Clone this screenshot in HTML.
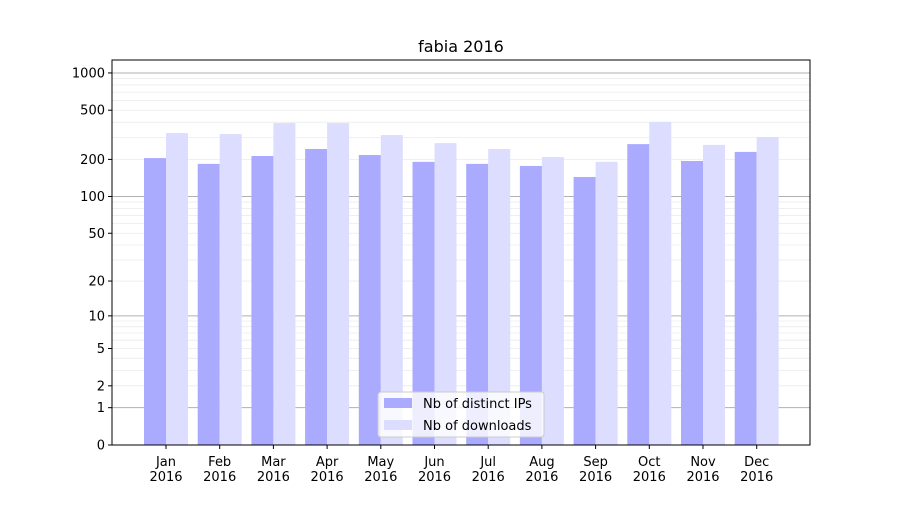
<!DOCTYPE html>
<html><head><meta charset="utf-8"><style>
body{margin:0;background:#fff;font-family:"Liberation Sans","DejaVu Sans",sans-serif}
</style></head><body>
<svg id="chart" width="900" height="500" xmlns="http://www.w3.org/2000/svg" font-family="DejaVu Sans, Liberation Sans, sans-serif">
<rect width="900" height="500" fill="#fff"/>
<text x="461" y="52" font-size="16" text-anchor="middle">fabia 2016</text>
<g id="grid"></g><g id="bars"></g><g id="axes"></g>
</svg>
<script>
const months=["Jan","Feb","Mar","Apr","May","Jun","Jul","Aug","Sep","Oct","Nov","Dec"];
const ips=[205,184,213,243,217,191,184,177,144,266,194,230];
const downloads=[327,321,394,394,315,271,243,209,191,402,262,304];
const yTicks=[0,1,2,5,10,20,50,100,200,500,1000];
const NS="http://www.w3.org/2000/svg";
const L=112,R=810,T=60,B=445;
function y(v){return B-124*Math.log10(1+v);}
function x(i){return 166+i*53.7;}
function mk(t,a,p){const e=document.createElementNS(NS,t);for(const k in a)e.setAttribute(k,a[k]);p.appendChild(e);return e;}
const grid=document.getElementById('grid'),bars=document.getElementById('bars'),axes=document.getElementById('axes');
for(let d=1;d<=1000;d*=10){for(let m=1;m<10;m++){const v=d*m;if(v>1100)break;const yy=y(v);if(yy<T)break;
const g=mk('line',{x1:L,x2:R,y1:yy,y2:yy,stroke:m==1?'#b0b0b0':'#ebebeb','stroke-width':m==1?1:0.8},grid);
}}
months.forEach((mo,i)=>{
const b1=mk('rect',{x:x(i)-22,y:y(ips[i]),width:22,height:B-y(ips[i]),fill:'#aaaaff'},bars);

const b2=mk('rect',{x:x(i),y:y(downloads[i]),width:22,height:B-y(downloads[i]),fill:'#ddddff'},bars);

mk('line',{x1:x(i),x2:x(i),y1:B,y2:B+4,stroke:'#000'},axes);
const t=mk('text',{x:x(i),y:B+21,'font-size':13,'text-anchor':'middle'},axes);

t.textContent=mo;
const t2=mk('text',{x:x(i),y:B+36,'font-size':13,'text-anchor':'middle'},axes);

t2.textContent='2016';
});
yTicks.forEach(v=>{const yy=y(v);
mk('line',{x1:L-4,x2:L,y1:yy,y2:yy,stroke:'#000'},axes);
const t=mk('text',{x:L-7,y:yy+4.5,'font-size':13,'text-anchor':'end'},axes);

t.textContent=v;});
const fr=mk('rect',{x:L,y:T,width:R-L,height:B-T,fill:'none',stroke:'#000'},axes);

const lg=mk('g',{},axes);
mk('rect',{x:378,y:392,width:166,height:45,rx:3,fill:'#fff','fill-opacity':0.8,stroke:'#ccc'},lg);
mk('rect',{x:384,y:398,width:28,height:10,fill:'#aaaaff'},lg);
mk('rect',{x:384,y:420,width:28,height:10,fill:'#ddddff'},lg);
const l1=mk('text',{x:423,y:408,'font-size':13},lg);l1.textContent='Nb of distinct IPs';

const l2=mk('text',{x:423,y:430,'font-size':13},lg);l2.textContent='Nb of downloads';

</script>
</body></html>
